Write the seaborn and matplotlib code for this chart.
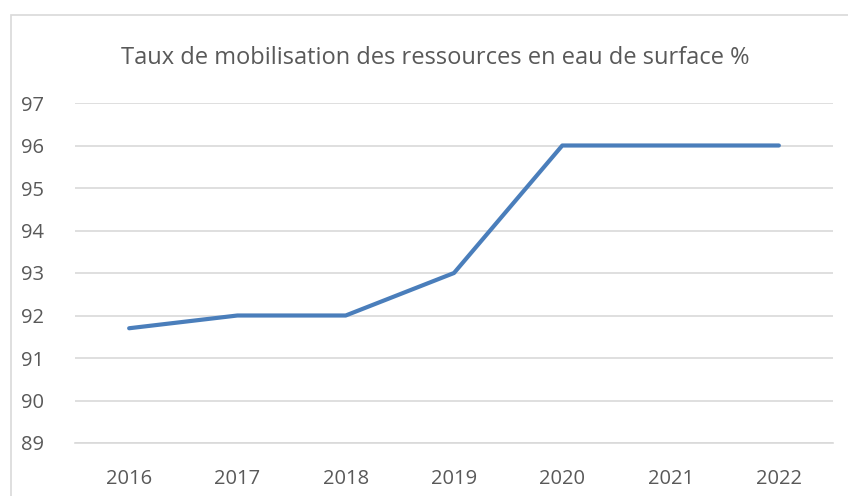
import matplotlib
matplotlib.use("Agg")
import matplotlib.pyplot as plt
import seaborn as sns
import pandas as pd
from matplotlib.patches import Rectangle

# data
years = ["2016", "2017", "2018", "2019", "2020", "2021", "2022"]
rates = [91.7, 92, 92, 93, 96, 96, 96]
y_ticks = [89, 90, 91, 92, 93, 94, 95, 96, 97]

df = pd.DataFrame({"year": years, "rate": rates})

sns.set_style("white")
plt.rcParams["font.family"] = ["Open Sans", "DejaVu Sans"]

W, H = 848, 496
fig = plt.figure(figsize=(W / 100, H / 100), dpi=100)
ax = fig.add_axes([75 / W, 1 - 443 / H, (833 - 75) / W, (443 - 103) / H])

sns.lineplot(data=df, x="year", y="rate", ax=ax, color="#4A7EBB",
             linewidth=3.0, sort=False)

ax.set_xlim(-0.5, len(years) - 0.5)
ax.set_ylim(89, 97)
ax.set_yticks(y_ticks)
ax.yaxis.grid(True, color="#d9d9d9", linewidth=1.2)
ax.xaxis.grid(False)
for s in ["top", "right", "left"]:
    ax.spines[s].set_visible(False)
ax.spines["bottom"].set_color("#d9d9d9")
ax.spines["bottom"].set_linewidth(1.2)
ax.tick_params(axis="y", length=0, pad=22, labelsize=14.5, labelcolor="#595959")
ax.tick_params(axis="x", length=0, pad=19, labelsize=14.5, labelcolor="#595959")
ax.set_xlabel("")
ax.set_ylabel("")

fig.text(435 / W, 1 - 58 / H, "Taux de mobilisation des ressources en eau de surface %",
         ha="center", va="center", fontsize=17, color="#595959")

# chart border
fig.patches.append(Rectangle((11 / W, -0.1), 1.2, 1 - 15 / H + 0.1,
                             transform=fig.transFigure, fill=False,
                             edgecolor="#d9d9d9", linewidth=1.2))

fig.savefig("out.png", dpi=100)
